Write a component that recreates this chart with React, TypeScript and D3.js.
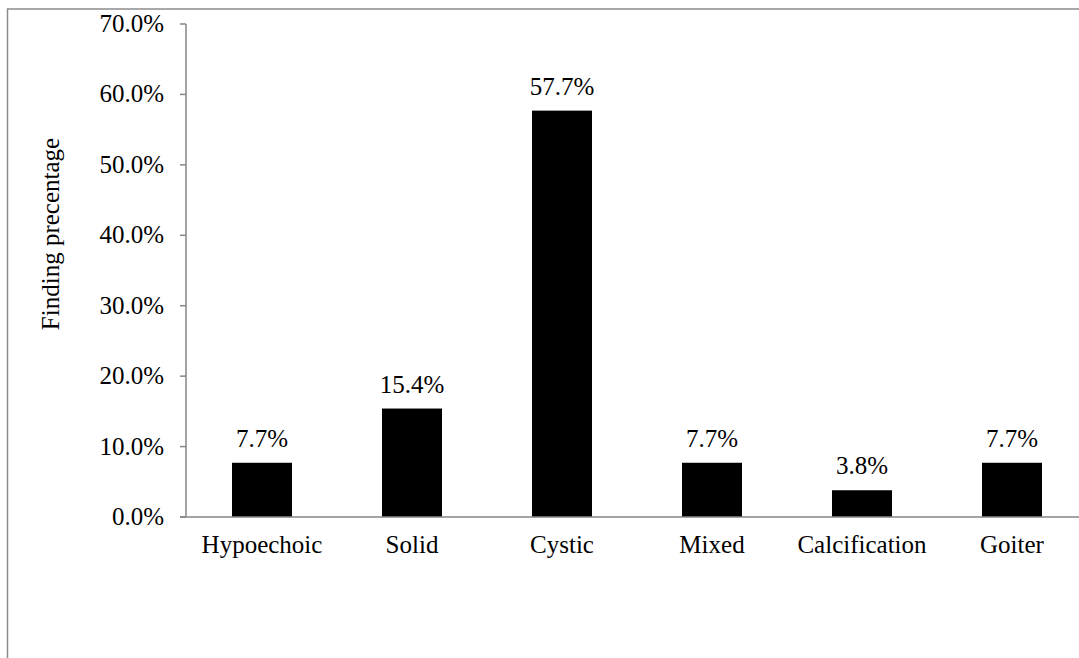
import React, { useEffect, useRef } from 'react';
import { select, scaleLinear, scaleBand, range } from 'd3';

const categories = ['Hypoechoic', 'Solid', 'Cystic', 'Mixed', 'Calcification', 'Goiter'];
const values = [7.7, 15.4, 57.7, 7.7, 3.8, 7.7];
const yTicks = [0, 10, 20, 30, 40, 50, 60, 70];
const yTitle = 'Finding precentage';

const W = 1079;
const H = 658;

const Chart: React.FC = () => {
  const svgRef = useRef<SVGSVGElement>(null);

  useEffect(() => {
    if (!svgRef.current) return;
    const svg = select(svgRef.current);
    svg.selectAll('*').remove();

    const font = '"Liberation Serif", "Times New Roman", serif';
    const fs = '25px';
    const axisColor = '#868686';

    const x = scaleBand<string>()
      .domain(categories)
      .range([187, 1087])
      .paddingInner(0.6)
      .paddingOuter(0.3);
    const y = scaleLinear().domain([0, 70]).range([517, 24]);

    svg.append('rect').attr('width', W).attr('height', H).attr('fill', '#fff');

    // outer frame (left + top edges visible)
    svg.append('path')
      .attr('d', `M7.5,${H} L7.5,9 L${W},9`)
      .attr('fill', 'none')
      .attr('stroke', '#8c8c8c')
      .attr('stroke-width', 1.5);

    // bars
    svg.append('g')
      .selectAll('rect')
      .data(range(categories.length))
      .join('rect')
      .attr('x', (i) => x(categories[i])!)
      .attr('width', x.bandwidth())
      .attr('y', (i) => y(values[i]))
      .attr('height', (i) => y(0) - y(values[i]))
      .attr('fill', '#000');

    // y axis
    svg.append('line')
      .attr('x1', 186).attr('x2', 186)
      .attr('y1', y(70)).attr('y2', y(0))
      .attr('stroke', axisColor).attr('stroke-width', 1.5);
    const ticks = svg.append('g');
    ticks.selectAll('line')
      .data(yTicks)
      .join('line')
      .attr('x1', 180).attr('x2', 186)
      .attr('y1', (d) => y(d)).attr('y2', (d) => y(d))
      .attr('stroke', axisColor).attr('stroke-width', 1.5);
    ticks.selectAll('text')
      .data(yTicks)
      .join('text')
      .attr('x', 164)
      .attr('y', (d) => y(d) + 8)
      .attr('text-anchor', 'end')
      .style('font-family', font)
      .style('font-size', fs)
      .attr('fill', '#000')
      .text((d) => `${d.toFixed(1)}%`);

    // x axis
    svg.append('line')
      .attr('x1', 180).attr('x2', W)
      .attr('y1', y(0)).attr('y2', y(0))
      .attr('stroke', axisColor).attr('stroke-width', 1.5);

    svg.append('g')
      .selectAll('text')
      .data(categories)
      .join('text')
      .attr('x', (d) => x(d)! + x.bandwidth() / 2)
      .attr('y', 553)
      .attr('text-anchor', 'middle')
      .style('font-family', font)
      .style('font-size', fs)
      .attr('fill', '#000')
      .text((d) => d);

    // value labels
    svg.append('g')
      .selectAll('text')
      .data(range(categories.length))
      .join('text')
      .attr('x', (i) => x(categories[i])! + x.bandwidth() / 2)
      .attr('y', (i) => y(values[i]) - 16)
      .attr('text-anchor', 'middle')
      .style('font-family', font)
      .style('font-size', fs)
      .attr('fill', '#000')
      .text((i) => `${values[i].toFixed(1)}%`);

    // y title
    svg.append('text')
      .attr('transform', `translate(59,234) rotate(-90)`)
      .attr('text-anchor', 'middle')
      .style('font-family', font)
      .style('font-size', fs)
      .attr('fill', '#000')
      .text(yTitle);
  }, []);

  return <svg ref={svgRef} width={W} height={H} style={{ display: 'block' }} />;
};

export default function App() {
  return (
    <div style={{ position: 'fixed', left: 0, top: 0, width: W, height: H, background: '#fff' }}>
      <Chart />
    </div>
  );
}
